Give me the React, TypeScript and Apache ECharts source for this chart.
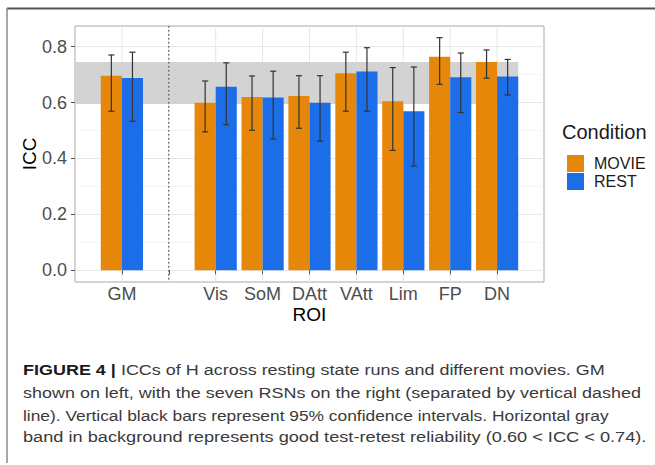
import React, { useEffect, useRef } from "react";
import * as echarts from "echarts";

// ---- data ----
const roiNames = ["GM", "Vis", "SoM", "DAtt", "VAtt", "Lim", "FP", "DN"];
const movieIcc = [0.696, 0.599, 0.62, 0.623, 0.705, 0.605, 0.764, 0.745];
const movieLow = [0.569, 0.495, 0.501, 0.508, 0.569, 0.429, 0.665, 0.687];
const movieHigh = [0.77, 0.677, 0.695, 0.696, 0.78, 0.725, 0.832, 0.788];
const restIcc = [0.688, 0.656, 0.618, 0.599, 0.711, 0.569, 0.69, 0.693];
const restLow = [0.533, 0.521, 0.47, 0.462, 0.569, 0.373, 0.564, 0.627];
const restHigh = [0.78, 0.742, 0.712, 0.696, 0.796, 0.727, 0.777, 0.754];
const conditions = ["MOVIE", "REST"];
const yTickValues = [0, 0.2, 0.4, 0.6, 0.8];
const yMinorValues = [0.1, 0.3, 0.5, 0.7];
const goodBand = [0.595, 0.745];
const captionBold = "FIGURE 4 |";
const captionLines = [
  " ICCs of H across resting state runs and different movies. GM",
  "shown on left, with the seven RSNs on the right (separated by vertical dashed",
  "line). Vertical black bars represent 95% confidence intervals. Horizontal gray",
  "band in background represents good test-retest reliability (0.60 < ICC < 0.74).",
];

const ORANGE = "#E6870A";
const BLUE = "#1B6EE8";
const FONT = "'Liberation Sans', Arial, Helvetica, sans-serif";
const CAP_SIZE = 15;
const CAP_LEFT = 23;
const CAP_Y = [370, 392.7, 415, 436.7];
const CAP_RIGHT = [605, 641, 609, 647];

// axis slots: a blank slot at each end and one between GM and the RSNs
const slots = ["", roiNames[0], "", ...roiNames.slice(1), ""];
const slotOf = (i: number) => (i === 0 ? 1 : i + 2);
const sepSlot = 2;
const lastSlot = slots.length - 2;

function barData(vals: number[]) {
  const arr: (number | null)[] = slots.map(() => null);
  vals.forEach((v, i) => (arr[slotOf(i)] = v));
  return arr;
}
function errData(lo: number[], hi: number[]) {
  return lo.map((l, i) => [slotOf(i), l, hi[i]]);
}

const errRender = (offset: number) => (params: any, api: any) => {
  const x = api.value(0);
  const lo = api.value(1);
  const hi = api.value(2);
  const bw = api.size([1, 0])[0];
  const pLo = api.coord([x, lo]);
  const pHi = api.coord([x, hi]);
  const cx = pLo[0] + offset * bw;
  const cap = 0.065 * bw;
  const style = { stroke: "#333333", lineWidth: 1.2 };
  return {
    type: "group",
    children: [
      { type: "line", shape: { x1: cx, y1: pHi[1], x2: cx, y2: pLo[1] }, style },
      { type: "line", shape: { x1: cx - cap, y1: pHi[1], x2: cx + cap, y2: pHi[1] }, style },
      { type: "line", shape: { x1: cx - cap, y1: pLo[1], x2: cx + cap, y2: pLo[1] }, style },
    ],
  };
};

function measure(text: string, bold: boolean) {
  const c = document.createElement("canvas").getContext("2d");
  if (!c) return text.length * CAP_SIZE * 0.5;
  c.font = `${bold ? "bold " : ""}${CAP_SIZE}px ${FONT}`;
  return c.measureText(text).width;
}

export default function App() {
  const ref = useRef<HTMLDivElement>(null);
  useEffect(() => {
    if (!ref.current) return;
    const chart = echarts.init(ref.current, null, { renderer: "svg" });

    const captionGraphics = captionLines.map((t, i) => {
      const natural = measure(t, false) + (i === 0 ? measure(captionBold, true) : 0);
      const sx = (CAP_RIGHT[i] - CAP_LEFT) / natural;
      return {
        type: "text",
        x: CAP_LEFT,
        y: CAP_Y[i],
        scaleX: sx,
        style: {
          text: i === 0 ? "{b|" + captionBold + "}" + t : t,
          fontSize: CAP_SIZE,
          fill: "#3a3a3a",
          fontFamily: FONT,
          verticalAlign: "middle",
          rich:
            i === 0
              ? {
                  b: { fontWeight: "bold", fill: "#1a1a1a", fontSize: CAP_SIZE, fontFamily: FONT },
                }
              : undefined,
        },
      };
    });

    const option: any = {
      animation: false,
      backgroundColor: "#ffffff",
      textStyle: { fontFamily: FONT },
      grid: {
        left: 75,
        top: 26,
        right: 111,
        bottom: 183,
        show: true,
        borderColor: "#a8a8a8",
        borderWidth: 1,
        backgroundColor: "#ffffff",
        containLabel: false,
      },
      legend: {
        data: conditions,
        orient: "vertical",
        left: 562,
        top: 150,
        itemWidth: 17,
        itemHeight: 17,
        itemGap: 1,
        icon: "rect",
        selectedMode: false,
        textStyle: { fontSize: 16, color: "#1a1a1a", fontFamily: FONT, padding: [0, 0, 0, 5] },
      },
      xAxis: {
        type: "category",
        data: slots,
        boundaryGap: false,
        name: "ROI",
        nameLocation: "middle",
        nameGap: 23,
        nameMoveOverlap: false,
        nameTextStyle: { fontSize: 19, color: "#000000", fontFamily: FONT },
        axisLine: { show: false },
        axisTick: {
          show: true,
          length: 4,
          interval: (index: number) => index > 0 && index < slots.length - 1,
          lineStyle: { color: "#555555" },
        },
        axisLabel: { interval: 0, fontSize: 18, color: "#4d4d4d", margin: 3, fontFamily: FONT },
        splitLine: { show: false },
      },
      yAxis: {
        type: "value",
        min: -0.0416,
        max: 0.8736,
        name: "ICC",
        nameLocation: "middle",
        nameGap: 36,
        nameMoveOverlap: false,
        nameRotate: 90,
        nameTextStyle: { fontSize: 19, color: "#000000", fontFamily: FONT },
        axisLine: { show: false },
        axisTick: { show: true, length: 4, customValues: yTickValues, lineStyle: { color: "#555555" } },
        axisLabel: {
          customValues: yTickValues,
          fontSize: 18,
          color: "#4d4d4d",
          margin: 8,
          fontFamily: FONT,
          formatter: (v: number) => v.toFixed(1),
        },
        splitLine: { show: false },
      },
      graphic: [
        { type: "line", shape: { x1: 7, y1: 8.5, x2: 655, y2: 8.5 }, style: { stroke: "#555555", lineWidth: 2 } },
        { type: "line", shape: { x1: 7, y1: 8, x2: 7, y2: 463 }, style: { stroke: "#8a8a8a", lineWidth: 1.5 } },
        {
          type: "text",
          left: 562,
          top: 122,
          style: { text: "Condition", fontSize: 20, fill: "#1a1a1a", fontFamily: FONT },
        },
        ...captionGraphics,
      ],
      series: [
        {
          type: "custom",
          name: "hgrid",
          z: 0,
          silent: true,
          data: [...yTickValues.map((v) => [0, v, 1]), ...yMinorValues.map((v) => [0, v, 0])],
          renderItem: (params: any, api: any) => {
            const cs = params.coordSys;
            const p = api.coord([0, api.value(1)]);
            const major = api.value(2) === 1;
            return {
              type: "line",
              shape: { x1: cs.x, y1: p[1], x2: cs.x + cs.width, y2: p[1] },
              style: { stroke: major ? "#e6e6e6" : "#efefef", lineWidth: major ? 1 : 0.6 },
            };
          },
        },
        {
          type: "custom",
          name: "vgrid",
          z: 0,
          silent: true,
          data: slots.map((_, i) => [i, 0]).slice(1, slots.length - 1),
          renderItem: (params: any, api: any) => {
            const cs = params.coordSys;
            const p = api.coord([api.value(0), 0]);
            return {
              type: "line",
              shape: { x1: p[0], y1: cs.y, x2: p[0], y2: cs.y + cs.height },
              style: { stroke: "#e6e6e6", lineWidth: 1 },
            };
          },
        },
        {
          type: "custom",
          name: "band",
          z: 1,
          silent: true,
          data: [[0, goodBand[0], goodBand[1]]],
          renderItem: (params: any, api: any) => {
            const bw = api.size([1, 0])[0];
            const pA = api.coord([0, api.value(2)]);
            const pB = api.coord([lastSlot, api.value(1)]);
            const x2 = pB[0] + 0.45 * bw;
            return {
              type: "rect",
              shape: { x: pA[0], y: pA[1], width: x2 - pA[0], height: pB[1] - pA[1] },
              style: { fill: "#d3d3d3" },
            };
          },
        },
        {
          type: "custom",
          name: "separator",
          z: 3,
          silent: true,
          data: [[sepSlot, 0]],
          renderItem: (params: any, api: any) => {
            const cs = params.coordSys;
            const p = api.coord([api.value(0), 0]);
            return {
              type: "line",
              shape: { x1: p[0], y1: cs.y, x2: p[0], y2: cs.y + cs.height },
              style: { stroke: "#333333", lineWidth: 1, lineDash: [1.5, 2.5] },
            };
          },
        },
        {
          type: "bar",
          name: "MOVIE",
          z: 2,
          data: barData(movieIcc),
          itemStyle: { color: ORANGE },
          barGap: "0%",
          barCategoryGap: "10%",
        },
        {
          type: "bar",
          name: "REST",
          z: 2,
          data: barData(restIcc),
          itemStyle: { color: BLUE },
          barGap: "0%",
          barCategoryGap: "10%",
        },
        {
          type: "custom",
          name: "movieErr",
          z: 4,
          silent: true,
          data: errData(movieLow, movieHigh),
          renderItem: errRender(-0.225),
        },
        {
          type: "custom",
          name: "restErr",
          z: 4,
          silent: true,
          data: errData(restLow, restHigh),
          renderItem: errRender(0.225),
        },
      ],
    };
    chart.setOption(option);
    return () => chart.dispose();
  }, []);
  return (
    <div
      ref={ref}
      style={{ position: "absolute", left: 0, top: 0, width: 655, height: 465, background: "#fff" }}
    />
  );
}
